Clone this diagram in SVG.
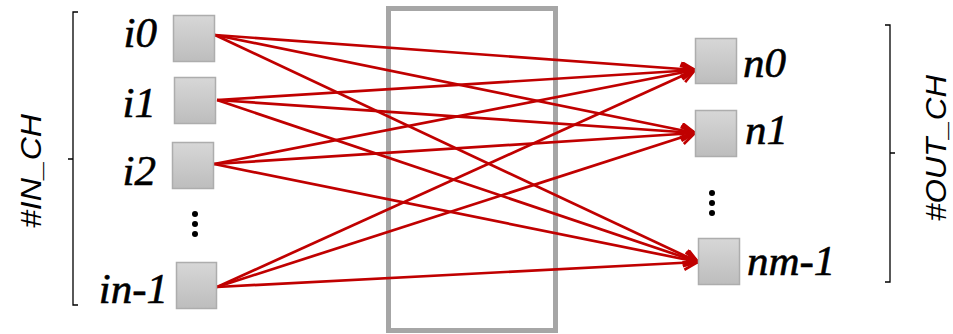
<svg xmlns="http://www.w3.org/2000/svg" width="953" height="334" viewBox="0 0 953 334">
<style>
.box{fill:url(#g);stroke:#adadad;stroke-width:1.5}
.lbl{font-family:"Liberation Serif",serif;font-style:italic;font-size:43px;fill:#000;stroke:#000;stroke-width:0.6}
.side{font-family:"Liberation Sans",sans-serif;font-style:italic;font-size:30px;fill:#000}
.br{fill:none;stroke:#000;stroke-width:1.3}
.c{stroke:#c00000;stroke-width:2.7;fill:none;marker-end:url(#ah)}
.dot{fill:#000}
</style>
<defs>
<linearGradient id="g" x1="0" y1="0" x2="0" y2="1">
<stop offset="0" stop-color="#d7d7d7"/>
<stop offset="1" stop-color="#bdbdbd"/>
</linearGradient>
<marker id="ah" markerUnits="userSpaceOnUse" markerWidth="18" markerHeight="16" refX="15" refY="7.5" orient="auto" viewBox="0 0 18 16">
<path d="M1,0.5 L15,7.5 L1,14.5" fill="none" stroke="#c00000" stroke-width="2.7"/>
</marker>
</defs>
<rect x="388.5" y="8.5" width="167" height="322" fill="none" stroke="#a6a6a6" stroke-width="5"/>
<g id="bracket-in">
<path class="br" d="M78,12 H73 V305 H78 M73,159 H68"/>
<text class="side" transform="translate(41,171) rotate(-90)" text-anchor="middle" textLength="114" lengthAdjust="spacingAndGlyphs">#IN_CH</text>
</g>
<g id="bracket-out">
<path class="br" d="M885,25 H890 V282 H885 M890,153 H895"/>
<text class="side" transform="translate(946,148) rotate(-90)" text-anchor="middle" textLength="146" lengthAdjust="spacingAndGlyphs">#OUT_CH</text>
</g>
<g id="connectors">
<line class="c" x1="215" y1="35" x2="695" y2="70"/>
<line class="c" x1="215" y1="35" x2="695" y2="133"/>
<line class="c" x1="215" y1="35" x2="698" y2="262"/>
<line class="c" x1="217" y1="100" x2="695" y2="70"/>
<line class="c" x1="217" y1="100" x2="695" y2="133"/>
<line class="c" x1="217" y1="100" x2="698" y2="262"/>
<line class="c" x1="214" y1="164" x2="695" y2="70"/>
<line class="c" x1="214" y1="164" x2="695" y2="133"/>
<line class="c" x1="214" y1="164" x2="698" y2="262"/>
<line class="c" x1="217" y1="287" x2="695" y2="70"/>
<line class="c" x1="217" y1="287" x2="695" y2="133"/>
<line class="c" x1="217" y1="287" x2="698" y2="262"/>
</g>
<g id="i0"><rect class="box" x="173.5" y="15.5" width="41" height="46"/><text class="lbl" x="157" y="47" text-anchor="end">i0</text></g>
<g id="i1"><rect class="box" x="174.5" y="77.5" width="41" height="46"/><text class="lbl" x="156" y="117" text-anchor="end">i1</text></g>
<g id="i2"><rect class="box" x="172.5" y="142.5" width="41" height="46"/><text class="lbl" x="156" y="185" text-anchor="end">i2</text></g>
<g id="dots-in"><circle class="dot" cx="195" cy="214" r="3"/><circle class="dot" cx="195" cy="224" r="3"/><circle class="dot" cx="195" cy="234" r="3"/></g>
<g id="in-1"><rect class="box" x="176.5" y="262.5" width="40" height="46"/><text class="lbl" x="168" y="303" text-anchor="end">in-1</text></g>
<g id="n0"><rect class="box" x="695.5" y="38.5" width="41" height="45"/><text class="lbl" x="743" y="77">n0</text></g>
<g id="n1"><rect class="box" x="695.5" y="110.5" width="41" height="46"/><text class="lbl" x="745" y="144">n1</text></g>
<g id="dots-out"><circle class="dot" cx="712" cy="193" r="3"/><circle class="dot" cx="712" cy="203" r="3"/><circle class="dot" cx="712" cy="213" r="3"/></g>
<g id="nm-1"><rect class="box" x="698.5" y="238.5" width="41" height="46"/><text class="lbl" x="747" y="275">nm-1</text></g>
</svg>
